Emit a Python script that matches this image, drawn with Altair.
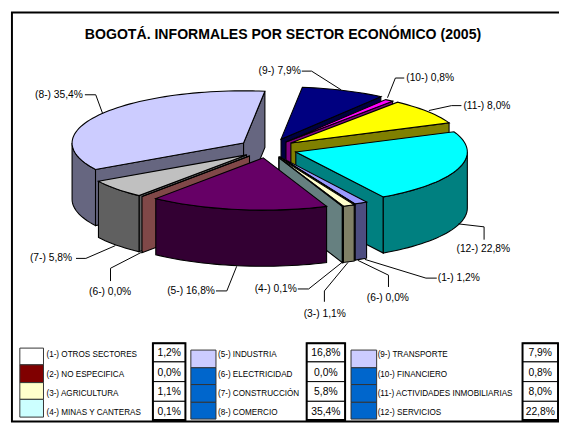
import math
import altair as alt
import pandas as pd

# ---- values
sector_ids = ["1", "2", "3", "4", "5", "6", "7", "8", "9", "10", "11", "12"]
sector_names = ["OTROS SECTORES", "NO ESPECIFICA", "AGRICULTURA", "MINAS Y CANTERAS",
                "INDUSTRIA", "ELECTRICIDAD", "CONSTRUCCIÓN", "COMERCIO",
                "TRANSPORTE", "FINANCIERO", "ACTIVIDADES INMOBILIARIAS", "SERVICIOS"]
label_ids = ["1", "6", "3", "4", "5", "6", "7", "8", "9", "10", "11", "12"]
shares = [1.2, 0.0, 1.1, 0.1, 16.8, 0.0, 5.8, 35.4, 7.9, 0.8, 8.0, 22.8]
share_text = ["1,2%", "0,0%", "1,1%", "0,1%", "16,8%", "0,0%", "5,8%", "35,4%", "7,9%", "0,8%", "8,0%", "22,8%"]
title_text = "BOGOTÁ. INFORMALES POR SECTOR ECONÓMICO (2005)"

# ---- styling / geometry of the exploded 3-D pie
top_colors = ["#9999FF", "#800000", "#FFFFCC", "#CCFFFF", "#660066", "#800000", "#C0C0C0", "#CCCCFF",
              "#000080", "#FF00FF", "#FFFF00", "#00FFFF"]
wall_colors = ["#4D4D80", "#804040", "#808066", "#668080", "#330033", "#804848", "#606060", "#666680",
               "#000040", "#800080", "#808000", "#008080"]
swatch_colors = ["#FFFFFF", "#800000", "#FFFFCC", "#CCFFFF", "#CCCCFF", "#0066CC", "#0066CC", "#0066CC",
                 "#CCCCFF", "#0066CC", "#0066CC", "#0066CC"]
apex = [(284, 156), (283, 156), (283, 157), (283, 157), (267, 157), (253, 155), (250, 154), (247, 142),
        (285, 138), (290, 141), (295, 142), (300, 151)]
paint_order = [7, 8, 9, 10, 11, 0, 1, 2, 3, 6, 5, 4]
RX, RY, DEPTH, START = 174.0, 53.0, 57.0, 149.7
OX, OY = 8, 8


def rim(a, t):
    r = math.radians(t)
    return (a[0] + RX * math.sin(r), a[1] - RY * math.cos(r))


def arc(a, t0, t1):
    n = max(1, int(abs(t1 - t0) / 2))
    return [rim(a, t0 + (t1 - t0) * k / n) for k in range(n + 1)]


polys = []


def add(points, fill):
    pid = f"p{len(polys):03d}"
    polys.append(pid)
    return [dict(poly=pid, i=i, x=p[0] - OX, y=p[1] - OY, fill=fill) for i, p in enumerate(points)]


angles = []
cum = START
for s in shares:
    angles.append((cum, cum + s * 3.6))
    cum += s * 3.6

rows = []
for idx in paint_order:
    t0, t1 = angles[idx]
    a = apex[idx]
    wall, top = wall_colors[idx], top_colors[idx]
    down = lambda pts: [(p[0], p[1] + DEPTH) for p in pts]
    if math.sin(math.radians(t0)) < 0:
        e = [a, rim(a, t0)]
        rows += add(e + down(e)[::-1], wall)
    if math.sin(math.radians(t1)) > 0:
        e = [a, rim(a, t1)]
        rows += add(e + down(e)[::-1], wall)
    for shift in (0.0, 360.0):
        lo = max(t0, 90.0 + shift)
        hi = min(t1, 270.0 + shift)
        if hi > lo:
            r = arc(a, lo, hi)
            rows += add(r + down(r)[::-1], wall)
    rows += add([a] + arc(a, t0, t1), top)
pie = pd.DataFrame(rows)

# leader lines and labels
label_text = [f"({label_ids[i]}-) {share_text[i]}" for i in range(12)]
label_pos = [(444, 279, "left"), (372, 299, "left"), (308, 315, "left"), (301, 290, "right"),
             (218, 292, "right"), (133, 293, "right"), (73, 259, "right"), (84, 93, "right"),
             (305, 69, "right"), (412, 76, "left"), (470, 104, "left"), (463, 250, "left")]
leaders = [
    [(443, 279), (432, 279), (370, 260)],
    [(394, 288), (394, 276), (363, 261)],
    [(329, 303), (329, 292), (353, 263)],
    [(302, 290), (313, 290), (347, 263)],
    [(219, 292), (230, 292), (240, 267)],
    [(112, 282), (112, 269), (145, 252)],
    [(77, 259), (87, 259), (117, 246)],
    [(86, 93), (97, 93), (104, 112)],
    [(306, 69), (316, 69), (346, 88)],
    [(410, 76), (401, 76), (393, 96)],
    [(468, 104), (458, 104), (435, 109)],
    [(491, 240), (491, 227), (465, 224)],
]
leader_rows = []
for n, line in enumerate(leaders):
    for i, p in enumerate(line):
        leader_rows.append(dict(line=f"l{n:02d}", i=i, x=p[0] - OX, y=p[1] - OY))
leader_df = pd.DataFrame(leader_rows)

W, H = 559, 418
X = alt.X("x:Q", scale=alt.Scale(domain=[0, W], range=[0, W], nice=False, zero=False), axis=None)
Y0 = alt.Y("y:Q", scale=alt.Scale(domain=[0, H], range=[0, H], nice=False, zero=False), axis=None)

frame_df = pd.DataFrame([dict(x=12 - OX, x2=575 - OX, y=9.5 - OY, y2=424.5 - OY)])
frame = alt.Chart(frame_df).mark_rect(fill="white", stroke="black", strokeWidth=2, clip=True).encode(
    x=X, x2="x2:Q", y=Y0, y2="y2:Q")

pie_layer = alt.Chart(pie).mark_line(
    interpolate="linear-closed", stroke="black", strokeWidth=1.1, strokeJoin="miter"
).encode(x=X, y=Y0, detail="poly:N", order="i:Q", fill=alt.Fill("fill:N", scale=None))

leader_layer = alt.Chart(leader_df).mark_line(stroke="black", strokeWidth=1).encode(
    x=X, y=Y0, detail="line:N", order="i:Q")

lab_df = pd.DataFrame([dict(t=label_text[i], x=label_pos[i][0] - OX, y=label_pos[i][1] - OY, a=label_pos[i][2])
                       for i in range(12)])
label_layers = [
    alt.Chart(lab_df[lab_df.a == side]).mark_text(font="Liberation Sans", fontSize=10.4, align=side,
                                                  baseline="middle", color="black").encode(x=X, y=Y0, text="t:N")
    for side in ["left", "right"]
]

title_df = pd.DataFrame([dict(t=title_text, x=287 - OX, y=32 - OY)])
title_layer = alt.Chart(title_df).mark_text(font="Liberation Sans", fontSize=14.3, fontWeight="bold", align="center",
                                            baseline="middle", color="black").encode(x=X, y=Y0, text="t:N")

# legend table
sw_cols = [(20, 44), (193.5, 219), (356, 382)]
sw_rows = [[350, 367, 385, 402, 420], [352, 370, 387, 405, 422], [352, 370, 387, 405, 422]]
txt_x = [47, 221, 383]
box_cols = [(155, 188), (311, 350), (530, 566)]
box_rows = [345, 364, 384, 404, 423]
text_rows = [357, 377, 397, 416]
sw, bx, lt, vt, outer = [], [], [], [], []
for c in range(3):
    outer.append(dict(x=box_cols[c][0] - OX, x2=box_cols[c][1] - OX, y=box_rows[0] - OY, y2=box_rows[4] - OY))
    for r in range(4):
        k = c * 4 + r
        sw.append(dict(x=sw_cols[c][0] - OX, x2=sw_cols[c][1] - OX, y=sw_rows[c][r] - OY, y2=sw_rows[c][r + 1] - OY,
                       fill=swatch_colors[k]))
        bx.append(dict(x=box_cols[c][0] - OX, x2=box_cols[c][1] - OX, y=box_rows[r] - OY, y2=box_rows[r + 1] - OY))
        lt.append(dict(t=f"({sector_ids[k]}-) {sector_names[k]}", x=txt_x[c] - OX, y=text_rows[r] - OY))
        vt.append(dict(t=share_text[k], x=(box_cols[c][0] + box_cols[c][1]) / 2 - OX,
                       y=(box_rows[r] + box_rows[r + 1]) / 2 + 1 - OY))

sw_layer = alt.Chart(pd.DataFrame(sw)).mark_rect(stroke="#333333", strokeWidth=1).encode(
    x=X, x2="x2:Q", y=Y0, y2="y2:Q", fill=alt.Fill("fill:N", scale=None))
bx_layer = alt.Chart(pd.DataFrame(bx)).mark_rect(fill="white", stroke="black", strokeWidth=1).encode(
    x=X, x2="x2:Q", y=Y0, y2="y2:Q")
outer_layer = alt.Chart(pd.DataFrame(outer)).mark_rect(fill="transparent", stroke="black", strokeWidth=2).encode(
    x=X, x2="x2:Q", y=Y0, y2="y2:Q")
lt_layer = alt.Chart(pd.DataFrame(lt)).mark_text(font="Liberation Sans", fontSize=8.25, align="left", baseline="middle",
                                                 color="black").encode(x=X, y=Y0, text="t:N")
vt_layer = alt.Chart(pd.DataFrame(vt)).mark_text(font="Liberation Sans", fontSize=10.5, align="center", baseline="middle",
                                                 color="black").encode(x=X, y=Y0, text="t:N")

chart = alt.layer(frame, pie_layer, leader_layer, *label_layers, title_layer,
                  sw_layer, bx_layer, outer_layer, lt_layer, vt_layer).properties(
    width=W, height=H, padding=0, autosize=alt.AutoSizeParams(type="none"),
    background="white"
).configure_view(stroke=None)

chart.save("out.html", embed_options={"renderer": "svg", "actions": False})
